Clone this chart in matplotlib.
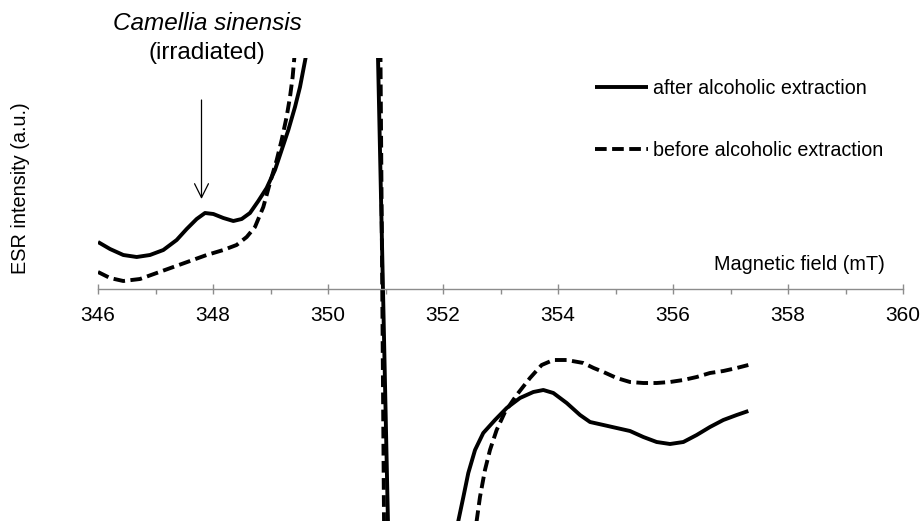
import matplotlib
matplotlib.use("Agg")
import matplotlib.pyplot as plt
from matplotlib.ticker import MultipleLocator

plt.rcParams['font.family'] = ['Liberation Sans', 'DejaVu Sans']

# ---- data (magnetic field in mT, ESR intensity in arbitrary units) ----
field_after = [346.0, 346.209, 346.44, 346.673, 346.904, 347.136, 347.368, 347.542,
               347.716, 347.861, 348.006, 348.18, 348.354, 348.499, 348.643, 348.788,
               348.933, 349.078, 349.194, 349.31, 349.426, 349.513, 349.61,
               349.8, 350.2, 350.6, 350.859, 351.053, 351.4, 351.9, 352.15,
               352.266, 352.354, 352.44, 352.557, 352.70, 352.904, 353.108, 353.339,
               353.571, 353.745, 353.919, 354.151, 354.383, 354.557, 354.79, 355.02,
               355.252, 355.484, 355.716, 355.948, 356.18, 356.412, 356.643, 356.875,
               357.108, 357.31]
esr_after = [47, 40, 34, 32, 34, 39, 49, 60,
             70, 76, 75, 71, 68, 70, 76, 88,
             101, 119, 139, 159, 182, 202, 231,
             420, 750, 650, 260, -260, -650, -600, -350,
             -232, -208, -184, -161, -144, -131, -119, -109,
             -103, -101, -104, -114, -126, -133, -136, -139,
             -142, -148, -153, -155, -153, -146, -138, -131,
             -126, -122]

field_before = [346.0, 346.209, 346.44, 346.73, 347.02, 347.31, 347.6, 347.89,
                348.18, 348.41, 348.586, 348.73, 348.875, 348.99, 349.108, 349.194,
                349.28, 349.339, 349.385, 349.414,
                349.6, 350.2, 350.6, 350.909, 350.978, 351.3, 351.9, 352.4,
                352.585, 352.643, 352.73, 352.817, 352.933, 353.078, 353.281, 353.513,
                353.716, 353.919, 354.151, 354.441, 354.62, 354.79, 355.02, 355.252,
                355.484, 355.716, 355.948, 356.18, 356.412, 356.643, 356.875, 357.108,
                357.31]
esr_before = [17, 11, 8, 10, 16, 22, 28, 34,
              39, 44, 52, 62, 82, 106, 129, 149,
              172, 192, 212, 231,
              500, 800, 700, 260, -260, -700, -700, -350,
              -232, -208, -181, -161, -141, -123, -106, -89,
              -76, -71, -71, -74, -79, -83, -89, -93,
              -94, -94, -93, -91, -88, -84, -82, -79,
              -76]

xticks = [346, 348, 350, 352, 354, 356, 358, 360]
labels = ["after alcoholic extraction", "before alcoholic extraction"]

# ---- figure ----
W, H = 922, 521
fig = plt.figure(figsize=(W / 100, H / 100), dpi=100)
ax = fig.add_axes([98 / W, 0, 805 / W, 463 / H])
ax.set_xlim(346, 360)
ax.set_ylim(-232, 231)

lw = 2.8
ax.plot(field_after, esr_after, color='black', lw=lw, solid_capstyle='butt',
        solid_joinstyle='round', label=labels[0])
ax.plot(field_before, esr_before, color='black', lw=lw, linestyle=(0, (3.0, 1.4)),
        dash_capstyle='butt', label=labels[1])

# axes styling: only a horizontal axis through zero
for s in ['top', 'right', 'left']:
    ax.spines[s].set_visible(False)
ax.spines['bottom'].set_position(('data', 0))
ax.spines['bottom'].set_color('#8c8c8c')
ax.spines['bottom'].set_linewidth(1.0)
ax.set_yticks([])
ax.set_xticks(xticks)
ax.xaxis.set_minor_locator(MultipleLocator(1))
ax.tick_params(axis='x', which='major', direction='inout', length=7.5, width=1.0,
               color='#8c8c8c', labelsize=15, pad=8.5)
ax.tick_params(axis='x', which='minor', direction='out', length=3.5, width=1.0,
               color='#8c8c8c')

ax.set_xlabel("Magnetic field (mT)", fontsize=14.3)
ax.xaxis.set_label_coords((885 - 98) / 805, (521 - 265) / 463)
ax.xaxis.label.set_ha('right')
ax.xaxis.label.set_va('center')

fig.text(20 / W, 1 - 188 / H, "ESR intensity (a.u.)", rotation=90,
         ha='center', va='center', fontsize=14.3)

# annotation
ax.text(347.90, 265, "Camellia sinensis", style='italic', fontsize=17.5,
        ha='center', va='center', clip_on=False)
ax.text(347.90, 236, "(irradiated)", fontsize=17.5,
        ha='center', va='center', clip_on=False)
ax.annotate("", xy=(347.80, 90), xytext=(347.80, 189), annotation_clip=False,
            arrowprops=dict(arrowstyle='->,head_length=1.0,head_width=0.5',
                            lw=0.9, color='black', shrinkA=0, shrinkB=0))

leg = ax.legend(loc='upper left', bbox_to_anchor=(595 / W, 1 - 79 / H),
                bbox_transform=fig.transFigure, frameon=False, fontsize=14.2,
                handlelength=2.7, handletextpad=0.25, labelspacing=2.2,
                borderpad=0, borderaxespad=0)

fig.savefig("out.png", dpi=100)
